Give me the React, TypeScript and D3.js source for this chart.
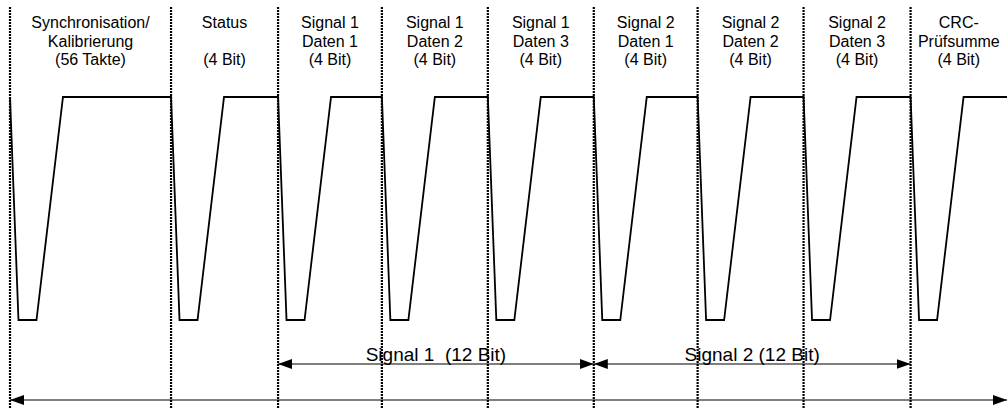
import { useEffect, useRef } from 'react';
import * as d3 from 'd3';

// frame layout in nibble units (schematic, not to real tick scale)
const segStarts = [0, 1.52, 2.53, 3.51, 4.51, 5.51, 6.49, 7.49, 8.5];
const frameEnd = 9.41;

const segLabels = [
  ['Synchronisation/', 'Kalibrierung', '(56 Takte)'],
  ['Status', '', '(4 Bit)'],
  ['Signal 1', 'Daten 1', '(4 Bit)'],
  ['Signal 1', 'Daten 2', '(4 Bit)'],
  ['Signal 1', 'Daten 3', '(4 Bit)'],
  ['Signal 2', 'Daten 1', '(4 Bit)'],
  ['Signal 2', 'Daten 2', '(4 Bit)'],
  ['Signal 2', 'Daten 3', '(4 Bit)'],
  ['CRC-', 'Prüfsumme', '(4 Bit)'],
];

// falling edge each segment: high -> low -> rising back to high
const pulseT = [0, 0.08, 0.25, 0.5];
const pulseLevel = [1, 0, 0, 1];

const groups = [
  { label: 'Signal 1  (12 Bit)', from: 2, to: 5 },
  { label: 'Signal 2 (12 Bit)', from: 5, to: 8 },
];

const W = 1007;
const H = 409;
const FONT = '"Liberation Sans", Arial, sans-serif';

export default function App() {
  const svgRef = useRef<SVGSVGElement>(null);

  useEffect(() => {
    if (!svgRef.current) return;
    const svg = d3.select(svgRef.current);
    svg.selectAll('*').remove();

    const x = d3.scaleLinear().domain([0, frameEnd]).range([10, W]);
    const y = d3.scaleLinear().domain([0, 1]).range([320, 97]);

    const defs = svg.append('defs');
    defs
      .append('marker')
      .attr('id', 'arr')
      .attr('viewBox', '0 0 14 10')
      .attr('refX', 14)
      .attr('refY', 5)
      .attr('markerWidth', 14)
      .attr('markerHeight', 10)
      .attr('markerUnits', 'userSpaceOnUse')
      .attr('orient', 'auto-start-reverse')
      .append('path')
      .attr('d', 'M0,0 L14,5 L0,10 Z')
      .attr('fill', '#000');

    // dotted separators
    svg
      .selectAll('.sep')
      .data(segStarts)
      .join('line')
      .attr('class', 'sep')
      .attr('x1', (d) => x(d))
      .attr('x2', (d) => x(d))
      .attr('y1', 7)
      .attr('y2', H)
      .attr('stroke', '#000')
      .attr('stroke-width', 2.2)
      .attr('stroke-dasharray', '2 1');

    // waveform
    const pts: [number, number][] = [];
    segStarts.forEach((s) => {
      pulseT.forEach((t, i) => pts.push([s + t, pulseLevel[i]]));
    });
    pts.push([frameEnd, 1]);
    const line = d3
      .line<[number, number]>()
      .x((d) => x(d[0]))
      .y((d) => y(d[1]));
    svg
      .append('path')
      .attr('d', line(pts))
      .attr('fill', 'none')
      .attr('stroke', '#000')
      .attr('stroke-width', 1.8)
      .attr('stroke-linejoin', 'miter');

    // segment headers
    const ends = [...segStarts.slice(1), frameEnd];
    segLabels.forEach((lines, i) => {
      const cx = (x(segStarts[i]) + x(ends[i])) / 2;
      lines.forEach((t, j) => {
        if (!t) return;
        svg
          .append('text')
          .attr('x', cx)
          .attr('y', 28 + j * 18.7)
          .attr('text-anchor', 'middle')
          .attr('font-family', FONT)
          .attr('font-size', 16)
          .attr('fill', '#000')
          .text(t);
      });
    });

    // 12-bit group arrows
    groups.forEach((g) => {
      const x0 = x(segStarts[g.from]);
      const x1 = x(segStarts[g.to]);
      svg
        .append('line')
        .attr('x1', x0)
        .attr('x2', x1)
        .attr('y1', 364)
        .attr('y2', 364)
        .attr('stroke', '#000')
        .attr('stroke-width', 1.2)
        .attr('marker-start', 'url(#arr)')
        .attr('marker-end', 'url(#arr)');
      svg
        .append('text')
        .attr('x', (x0 + x1) / 2)
        .attr('y', 361)
        .attr('text-anchor', 'middle')
        .attr('font-family', FONT)
        .attr('font-size', 19)
        .attr('fill', '#000')
        .style('white-space', 'pre')
        .text(g.label);
    });

    // whole frame arrow
    svg
      .append('line')
      .attr('x1', x(0))
      .attr('x2', x(frameEnd))
      .attr('y1', 400)
      .attr('y2', 400)
      .attr('stroke', '#000')
      .attr('stroke-width', 1.2)
      .attr('marker-start', 'url(#arr)')
      .attr('marker-end', 'url(#arr)');
  }, []);

  return (
    <svg
      ref={svgRef}
      width={W}
      height={H}
      style={{ position: 'absolute', left: 0, top: 0, background: '#fff' }}
    />
  );
}
